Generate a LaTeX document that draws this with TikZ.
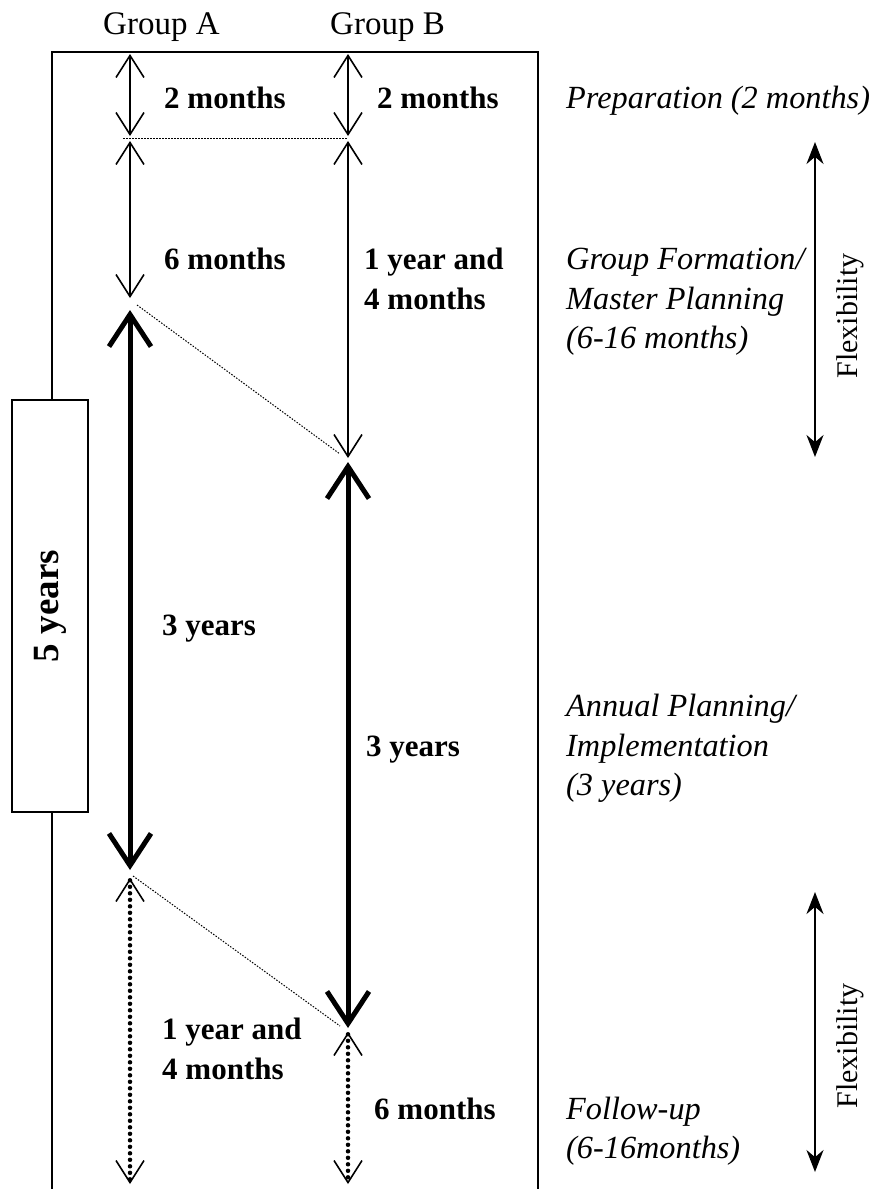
\documentclass[tikz,border=0pt]{standalone}
\usepackage{fontspec}
\setmainfont{Liberation Serif}
\usetikzlibrary{arrows.meta}

\tikzset{
  frameline/.style={line width=1.4pt},
  thinarrow/.style={line width=1.6pt,
    {Straight Barb[length=22pt,width=28pt]}-{Straight Barb[length=22pt,width=28pt]}},
  thickarrow/.style={line width=5pt,
    {Straight Barb[length=32pt,width=42pt]}-{Straight Barb[length=32pt,width=42pt]}},
  dotarrow/.style={line width=4.5pt, line cap=round, dash pattern=on 0pt off 6.5pt,
    {Straight Barb[length=22pt,width=28pt,line width=1.6pt]}-{Straight Barb[length=22pt,width=28pt,line width=1.6pt]}},
  flexarrow/.style={line width=2pt,
    {Stealth[length=22pt,width=17pt]}-{Stealth[length=22pt,width=17pt]}},
  guide/.style={line width=1pt, dash pattern=on 1.5pt off 1.5pt},
  head/.style={anchor=base west, inner sep=0pt, font=\fontsize{33}{39.5}\selectfont},
  span/.style={anchor=base west, inner sep=0pt, font=\fontsize{31}{39.5}\selectfont\bfseries},
  phase/.style={anchor=base west, inner sep=0pt, font=\fontsize{32.3}{39.5}\selectfont\itshape},
  flex/.style={rotate=90, inner sep=0pt, font=\fontsize{30}{34}\selectfont},
}

\begin{document}
\begin{tikzpicture}[x=1pt,y=-1pt]
\useasboundingbox (0,0) rectangle (876,1189);

% outer frame
\coordinate (fbl) at (52,1189);
\coordinate (ftl) at (52,52);
\coordinate (ftr) at (538,52);
\coordinate (fbr) at (538,1189);
\draw[frameline] (fbl) -- (ftl) -- (ftr) -- (fbr);

% total duration box on the left edge
\node[draw, frameline, fill=white, minimum width=76pt, minimum height=412pt,
      inner sep=0pt] (total) at (50,606) {};
\node[rotate=90, inner sep=0pt, font=\fontsize{37}{42}\selectfont\bfseries]
      (totaltext) at (total.center) {5 years};

% column headings
\node[head] (ga) at (103,34) {Group A};
\node[head] (gb) at (330,34) {Group B};

% timeline points, group A
\coordinate (a0) at (130,54);
\coordinate (a1) at (130,136);
\coordinate (a2) at (130,141);
\coordinate (a3) at (130,298);
\coordinate (a4) at (130,310);
\coordinate (a5) at (130,870);
\coordinate (a6) at (130,878);
\coordinate (a7) at (130,1184);

% timeline points, group B
\coordinate (b0) at (348,54);
\coordinate (b1) at (348,136);
\coordinate (b2) at (348,141);
\coordinate (b3) at (348,458);
\coordinate (b4) at (348,462);
\coordinate (b5) at (348,1028);
\coordinate (b6) at (348,1032);
\coordinate (b7) at (348,1184);

% preparation
\draw[thinarrow] (a0) -- (a1);
\draw[thinarrow] (b0) -- (b1);
\coordinate (g1s) at (123,138);
\coordinate (g1e) at (348,138);
\draw[guide] (g1s) -- (g1e);

% group formation
\draw[thinarrow] (a2) -- (a3);
\draw[thinarrow] (b2) -- (b3);
\coordinate (g2s) at (137,305);
\coordinate (g2e) at (340,454);
\draw[guide] (g2s) -- (g2e);

% implementation
\draw[thickarrow] (a4) -- (a5);
\draw[thickarrow] (b4) -- (b5);
\coordinate (g3s) at (133,876);
\coordinate (g3e) at (340,1026);
\draw[guide] (g3s) -- (g3e);

% follow-up
\draw[dotarrow] (a6) -- (a7);
\draw[dotarrow] (b6) -- (b7);

% durations
\node[span] (da1) at (164,108) {2 months};
\node[span] (db1) at (377,108) {2 months};
\node[span] (da2) at (164,269) {6 months};
\node[span] (db2a) at (364,269) {1 year and};
\node[span] (db2b) at (364,309) {4 months};
\node[span] (da3) at (162,635) {3 years};
\node[span] (db3) at (366,756) {3 years};
\node[span] (da4a) at (162,1039) {1 year and};
\node[span] (da4b) at (162,1079) {4 months};
\node[span] (db4) at (374,1119) {6 months};

% phase names
\node[phase] (p1) at (566,108) {Preparation (2 months)};
\node[phase] (p2a) at (566,269) {Group Formation/};
\node[phase] (p2b) at (566,309) {Master Planning};
\node[phase] (p2c) at (566,348) {(6-16 months)};
\node[phase] (p3a) at (566,716) {Annual Planning/};
\node[phase] (p3b) at (566,756) {Implementation};
\node[phase] (p3c) at (566,795) {(3 years)};
\node[phase] (p4a) at (566,1119) {Follow-up};
\node[phase] (p4b) at (566,1158) {(6-16months)};

% flexibility ranges
\coordinate (f1t) at (815,142);
\coordinate (f1b) at (815,457);
\draw[flexarrow] (f1t) -- (f1b);
\node[flex] (fx1) at (850,316) {Flexibility};
\coordinate (f2t) at (815,892);
\coordinate (f2b) at (815,1172);
\draw[flexarrow] (f2t) -- (f2b);
\node[flex] (fx2) at (850,1046) {Flexibility};
\end{tikzpicture}
\end{document}
